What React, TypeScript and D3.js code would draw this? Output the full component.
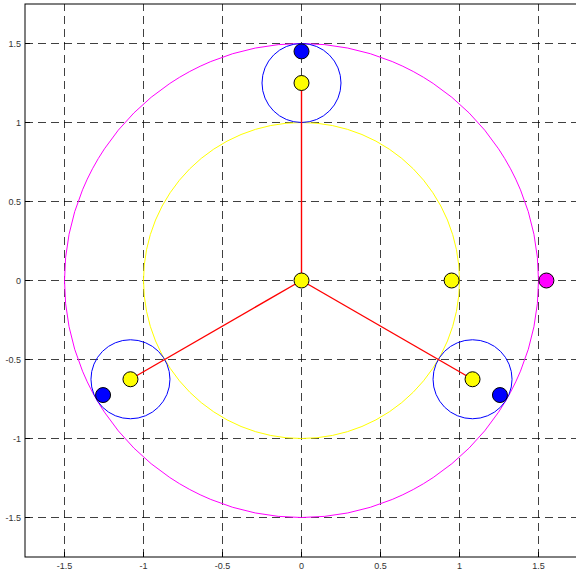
import React, { useEffect, useRef } from 'react';
import * as d3 from 'd3';

// tick values for both axes
const ticks = [-1.5, -1, -0.5, 0, 0.5, 1, 1.5];
const tickLabels = ['-1.5', '-1', '-0.5', '0', '0.5', '1', '1.5'];

// big circles centred at origin
const bigCircles = [
  { r: 1.5, color: '#ff00ff' },
  { r: 1, color: '#ffff00' },
];

// small circles: angle of arm in degrees, arm length, small circle radius
const armAngles = [90, -30, 210];
const armLength = 1.25;
const smallRadius = 0.25;

// dots
const yellowDots: [number, number][] = [
  [0, 0],
  [0, 1.25],
  [1.0825, -0.625],
  [-1.0825, -0.625],
  [0.95, 0],
];
const blueDots: [number, number][] = [
  [0, 1.45],
  [1.256, -0.725],
  [-1.256, -0.725],
];
const magentaDots: [number, number][] = [[1.55, 0]];

const W = 576;
const H = 576;

const App: React.FC = () => {
  const ref = useRef<SVGSVGElement>(null);

  useEffect(() => {
    if (!ref.current) return;
    const svg = d3.select(ref.current);
    svg.selectAll('*').remove();

    const x = d3.scaleLinear().domain([-1.75, 1.75]).range([25, 578]);
    const y = d3.scaleLinear().domain([-1.75, 1.75]).range([557, 4]);

    svg.append('rect').attr('width', W).attr('height', H).attr('fill', '#fff');

    // grid
    const grid = svg.append('g')
      .attr('stroke', '#000')
      .attr('stroke-opacity', 0.75)
      .attr('stroke-width', 1)
      .attr('stroke-dasharray', '8,5');
    ticks.forEach(t => {
      grid.append('line')
        .attr('x1', x(t)).attr('x2', x(t))
        .attr('y1', y(-1.75)).attr('y2', y(1.75));
      grid.append('line')
        .attr('x1', x(-1.75)).attr('x2', x(1.75))
        .attr('y1', y(t)).attr('y2', y(t));
    });

    // frame
    svg.append('rect')
      .attr('x', x(-1.75)).attr('y', y(1.75))
      .attr('width', x(1.75) - x(-1.75))
      .attr('height', y(-1.75) - y(1.75))
      .attr('fill', 'none')
      .attr('stroke', '#000')
      .attr('stroke-width', 1);

    // tick marks (inside)
    ticks.forEach(t => {
      svg.append('line')
        .attr('x1', x(t)).attr('x2', x(t))
        .attr('y1', y(-1.75)).attr('y2', y(-1.75) - 5)
        .attr('stroke', '#000');
      svg.append('line')
        .attr('x1', x(-1.75)).attr('x2', x(-1.75) + 5)
        .attr('y1', y(t)).attr('y2', y(t))
        .attr('stroke', '#000');
    });

    // tick labels
    const lab = svg.append('g')
      .attr('font-family', 'Liberation Sans, Arial, sans-serif')
      .attr('font-size', 9)
      .attr('fill', '#333');
    ticks.forEach((t, i) => {
      lab.append('text')
        .attr('x', x(t)).attr('y', y(-1.75) + 12)
        .attr('text-anchor', 'middle')
        .text(tickLabels[i]);
      lab.append('text')
        .attr('x', x(-1.75) - 4).attr('y', y(t) + 3)
        .attr('text-anchor', 'end')
        .text(tickLabels[i]);
    });

    const k = x(1) - x(0);

    // big circles
    bigCircles.forEach(c => {
      svg.append('circle')
        .attr('cx', x(0)).attr('cy', y(0))
        .attr('r', c.r * k)
        .attr('fill', 'none')
        .attr('stroke', c.color)
        .attr('stroke-width', 1);
    });

    const arms = armAngles.map(a => {
      const rad = (a * Math.PI) / 180;
      return [armLength * Math.cos(rad), armLength * Math.sin(rad)] as [number, number];
    });

    // small circles
    arms.forEach(([cx, cy]) => {
      svg.append('circle')
        .attr('cx', x(cx)).attr('cy', y(cy))
        .attr('r', smallRadius * k)
        .attr('fill', 'none')
        .attr('stroke', '#0000ff')
        .attr('stroke-width', 1);
    });

    // arms
    arms.forEach(([cx, cy]) => {
      svg.append('line')
        .attr('x1', x(0)).attr('y1', y(0))
        .attr('x2', x(cx)).attr('y2', y(cy))
        .attr('stroke', '#ff0000')
        .attr('stroke-width', 1.4);
    });

    const dots = (pts: [number, number][], color: string) => {
      svg.append('g').selectAll('circle')
        .data(pts)
        .join('circle')
        .attr('cx', d => x(d[0]))
        .attr('cy', d => y(d[1]))
        .attr('r', 7.5)
        .attr('fill', color)
        .attr('stroke', '#000')
        .attr('stroke-width', 1);
    };
    dots(yellowDots, '#ffff00');
    dots(blueDots, '#0000ff');
    dots(magentaDots, '#ff00ff');
  }, []);

  return (
    <svg
      ref={ref}
      width={W}
      height={H}
      style={{ position: 'absolute', left: 0, top: 0, display: 'block' }}
    />
  );
};

export default App;
